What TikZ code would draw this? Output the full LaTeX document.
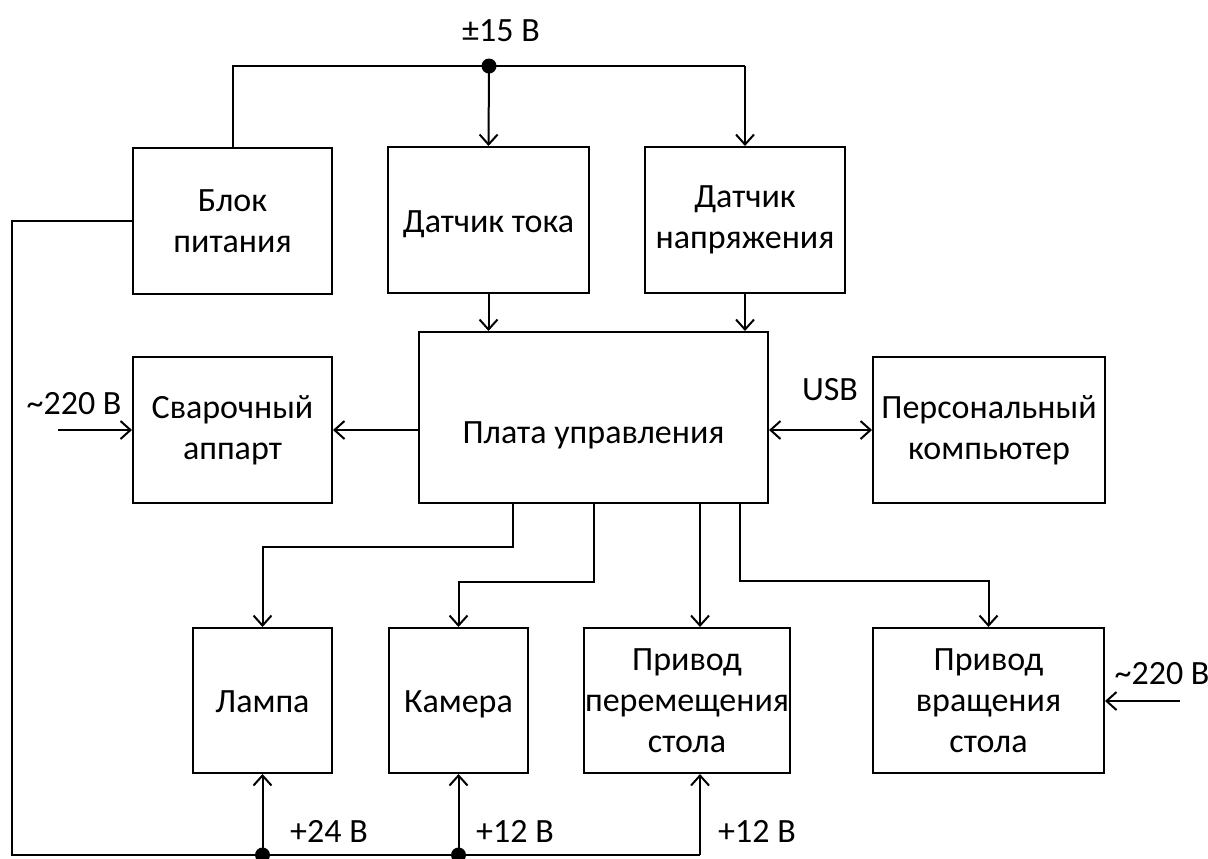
\documentclass[tikz,border=0pt]{standalone}
\usepackage{fontspec}
\setmainfont{Carlito}
\usetikzlibrary{arrows.meta}
\tikzset{
  box/.style={draw, line width=1pt, align=center, inner sep=0pt},
  txt/.style={align=center, inner sep=0pt},
  one/.style={text height=12pt, text depth=0pt},
  arr/.style={line width=1pt, -{Straight Barb[length=5pt,width=9pt,line width=1pt]}},
  arrb/.style={line width=1pt, {Straight Barb[length=5pt,width=9pt,line width=1pt]}-{Straight Barb[length=5pt,width=9pt,line width=1pt]}},
  wire/.style={line width=1pt},
  jdot/.style={fill, circle, inner sep=0pt, minimum size=7.5pt}
}
\begin{document}
\begin{tikzpicture}[x=0.5pt, y=-0.5pt, font=\fontsize{17}{20.5}\selectfont]
\useasboundingbox (0,0) rectangle (1208,858);
% boxes
\node[box, minimum width=99.5pt, minimum height=73pt] (blok) at (232.5,221) {Блок\\питания};
\node[box, one, minimum width=100.5pt, minimum height=73pt] (dtok) at (488.5,220) {Датчик тока};
\node[box, minimum width=100pt, minimum height=73pt] (dnapr) at (745,220) {Датчик\\напряжения};
\node[box, minimum width=99.5pt, minimum height=73pt] (svar) at (232.5,430) {Сварочный\\аппарт};
\node[box, minimum width=174.5pt, minimum height=85.5pt] (plata) at (593.5,417.5) {};
\node[txt, one] (platat) at (593.5,431) {Плата управления};
\node[box, minimum width=116pt, minimum height=73pt] (pk) at (989,430) {Персональный\\компьютер};
\node[box, one, minimum width=69.5pt, minimum height=72.5pt] (lampa) at (262.5,700.5) {Лампа};
\node[box, one, minimum width=69.5pt, minimum height=72.5pt] (kam) at (458.5,700.5) {Камера};
\node[box, minimum width=103pt, minimum height=72.5pt] (privper) at (687,700.5) {Привод\\перемещения\\стола};
\node[box, minimum width=115.5pt, minimum height=72.5pt] (privvr) at (988.5,700.5) {Привод\\вращения\\стола};
% labels
\node[txt, one] (l15) at (501,29) {±15 В};
\node[txt, one] (l220a) at (74,402) {\textasciitilde220 В};
\node[txt, one] (l220b) at (1162,672) {\textasciitilde220 В};
\node[txt, one] (lusb) at (830,388) {USB};
\node[txt, one] (l24) at (329,830) {+24 В};
\node[txt, one] (l12a) at (515,830) {+12 В};
\node[txt, one] (l12b) at (757,830) {+12 В};
% coordinates
\coordinate (topdot) at (489,66);
\coordinate (lcorner) at (12,855);
\coordinate (busR) at (700,855);
\coordinate (p1) at (513,503);
\coordinate (p3) at (700,503);
\coordinate (p4) at (740,503);
\coordinate (in1) at (58,430);
\coordinate (in2) at (1180,701);
% top supply bus
\draw[wire] (blok.north) -- (blok.north |- topdot) -- (dnapr.north |- topdot);
\draw[arr] (dnapr.north |- topdot) -- (dnapr.north);
\draw[arr] (topdot) -- (dtok.north);
\node[jdot] (d1) at (topdot) {};
% sensors to board
\draw[arr] (dtok.south) -- (dtok.south |- plata.north);
\draw[arr] (dnapr.south) -- (dnapr.south |- plata.north);
% board to welder, PC
\draw[arr] (svar.east -| plata.west) -- (svar.east);
\draw[arr] (in1) -- (svar.west);
\draw[arrb] (plata.east |- pk.west) -- (pk.west);
% board to bottom
\draw[arr] (p1) -- ++(0,44) -| (lampa.north);
\draw[arr] (plata.south) -- ++(0,78) -| (kam.north);
\draw[arr] (p3) -- (p3 |- privper.north);
\draw[arr] (p4) -- ++(0,78) -| (privvr.north);
\draw[arr] (in2) -- (in2 -| privvr.east);
% left/bottom supply bus
\draw[wire] (blok.west) -- (blok.west -| lcorner) -- (lcorner) -- (busR);
\draw[arr] (busR) -- (busR |- privper.south);
\draw[arr] (lampa.south |- busR) -- (lampa.south);
\draw[arr] (kam.south |- busR) -- (kam.south);
\node[jdot] (d2) at (lampa.south |- busR) {};
\node[jdot] (d3) at (kam.south |- busR) {};
\end{tikzpicture}
\end{document}
